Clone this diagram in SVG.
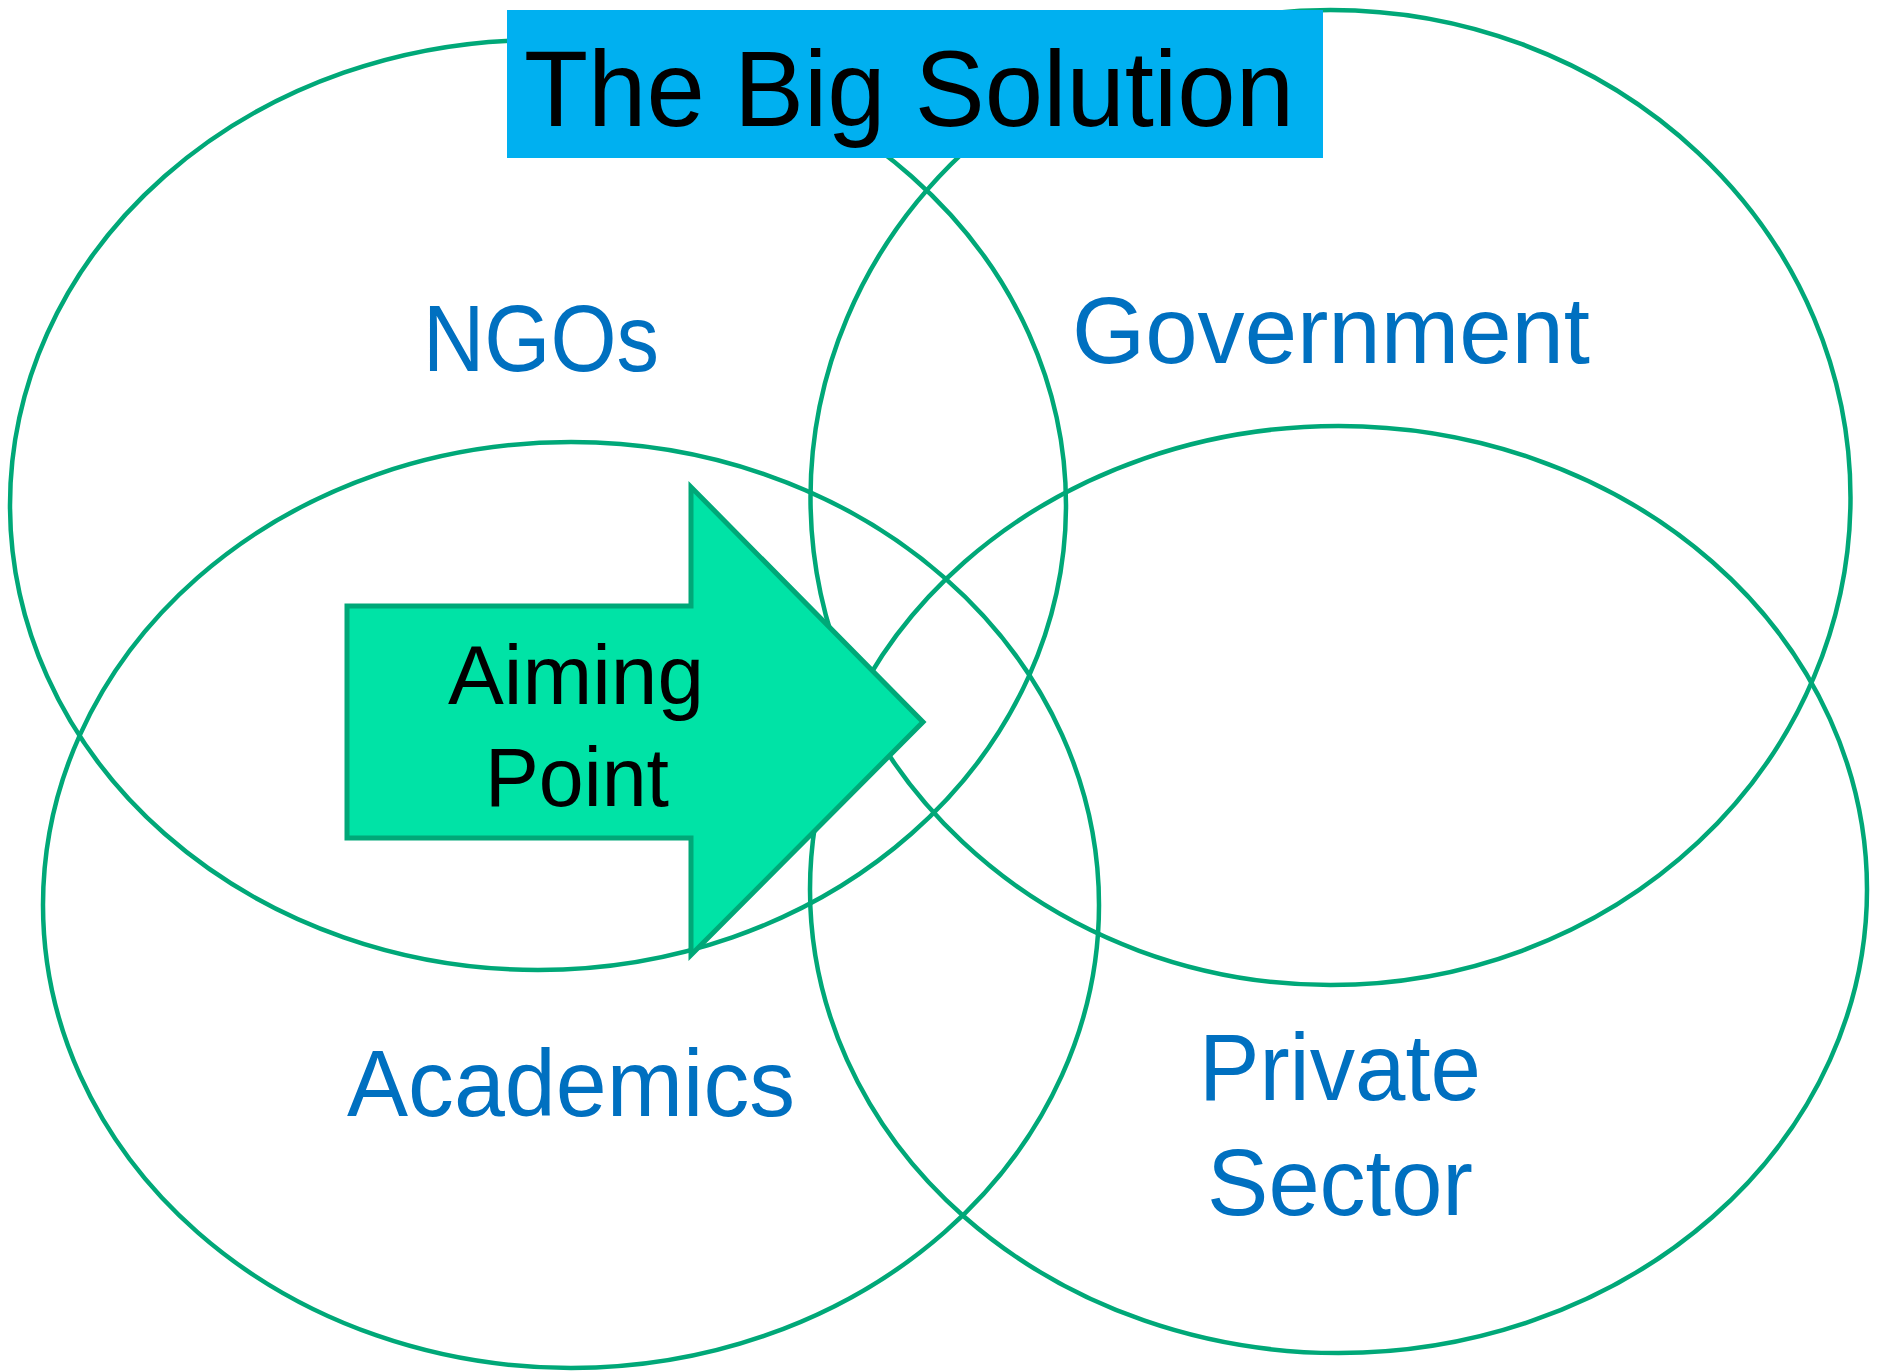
<svg xmlns="http://www.w3.org/2000/svg" width="1881" height="1371" viewBox="0 0 1881 1371">
<style>
.ring{fill:none;stroke:#00A878;stroke-width:4.5}
.lbl{font-family:"Liberation Sans",Arial,sans-serif;font-size:95px;fill:#0070C0;text-anchor:middle}
.blk{font-family:"Liberation Sans",Arial,sans-serif;fill:#000000;text-anchor:middle}
</style>
<rect width="1881" height="1371" fill="#ffffff"/>
<g id="ngos">
<ellipse class="ring" cx="538" cy="505" rx="528" ry="465"/>
</g>
<g id="government">
<ellipse class="ring" cx="1330.5" cy="497.5" rx="520" ry="487.5"/>
</g>
<g id="academics">
<ellipse class="ring" cx="571" cy="905" rx="528" ry="463"/>
</g>
<g id="private-sector">
<ellipse class="ring" cx="1338.5" cy="889.5" rx="528.5" ry="463.5"/>
</g>
<g id="title">
<rect x="507" y="10" width="816" height="148" fill="#00B0F0"/>
<text class="blk" x="909" y="126" font-size="107" textLength="770" lengthAdjust="spacingAndGlyphs">The Big Solution</text>
</g>
<g id="aiming-point">
<polygon points="347,606 691,606 691,487 923,722 691,955 691,838 347,838" fill="#00E3A6" stroke="#00A878" stroke-width="5"/>
<text class="blk" x="576" y="704" font-size="84" textLength="256" lengthAdjust="spacingAndGlyphs">Aiming</text>
<text class="blk" x="577" y="806" font-size="84" textLength="184" lengthAdjust="spacingAndGlyphs">Point</text>
</g>
<g id="labels">
<text class="lbl" x="541" y="371" textLength="236" lengthAdjust="spacingAndGlyphs">NGOs</text>
<text class="lbl" x="1331" y="363" textLength="518" lengthAdjust="spacingAndGlyphs">Government</text>
<text class="lbl" x="571" y="1116" textLength="448" lengthAdjust="spacingAndGlyphs">Academics</text>
<text class="lbl" x="1340" y="1100" textLength="282" lengthAdjust="spacingAndGlyphs">Private</text>
<text class="lbl" x="1340" y="1215" textLength="266" lengthAdjust="spacingAndGlyphs">Sector</text>
</g>
<g id="connectors"></g>
</svg>
